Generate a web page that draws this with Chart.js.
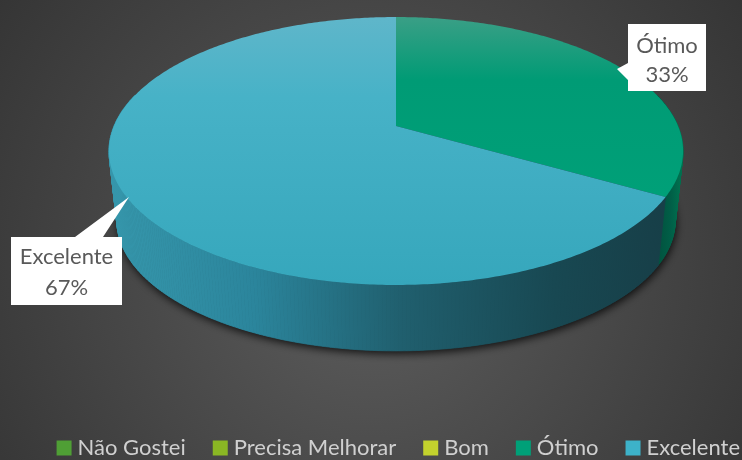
<!DOCTYPE html>
<html><head><meta charset="utf-8">
<style>html,body{margin:0;padding:0;background:#3a3a3a}#w{width:742px;height:460px;position:relative}</style>
<script src="https://cdn.jsdelivr.net/npm/chart.js@4"></script></head>
<body><div id="w"><canvas id="c" width="742" height="460"></canvas></div>
<script>
const categories = ['Não Gostei','Precisa Melhorar','Bom','Ótimo','Excelente'];
const shares = [0,0,0,33.3,66.7];
const legendColors = ['#4f9f35','#8ab724','#c3d22d','#00a078','#3db2c9'];

const topStops = {3:[[0,'#3a9f86'],[0.35,'#009b75'],[1,'#00a078']],4:[[0,'#5fb6ca'],[0.3,'#47b2c7'],[1,'#36a7bc']]};
const wallStops = {3:[[0,'#00523d'],[0.6,'#005f47'],[1,'#00704f']],4:[[0,'#3596ab'],[0.25,'#2b859c'],[0.52,'#205f6e'],[0.8,'#184852'],[1,'#173f48']]};
const view = {cx:396,apex:126,bx:129.3,dx:282,c:-0.1866,vanish:2700,depth:0.9727};
function project(a,low){
  const u=Math.cos(a),v=Math.sin(a),k=1+view.c*v;
  let x=view.cx+view.dx*u/k, y=view.apex+view.bx*v/k;
  if(low){x=view.cx+(x-view.cx)*view.depth;y=view.vanish-(view.vanish-y)*view.depth;}
  return [x,y];
}
function apexPoint(){ return [view.cx,view.apex]; }
function grad(ctx,x0,y0,x1,y1,stops){const g=ctx.createLinearGradient(x0,y0,x1,y1);stops.forEach(s=>g.addColorStop(s[0],s[1]));return g;}
function sweep(el){const out=[];const n=Math.max(2,Math.ceil((el.endAngle-el.startAngle)/0.012));for(let i=0;i<=n;i++)out.push(el.startAngle+(el.endAngle-el.startAngle)*i/n);return out;}

const pie3d = {
  id:'pie3d',
  beforeDraw(chart){
    const {ctx,width:w,height:h}=chart;
    const g=ctx.createRadialGradient(w/2,h*0.6,10,w/2,h*0.55,w*0.72);
    g.addColorStop(0,'#5c5c5c');g.addColorStop(1,'#2e2e2e');
    ctx.fillStyle=g;ctx.fillRect(0,0,w,h);
  },
  afterLayout(chart){
    const l=chart.legend;
    l.maxWidth=1000; l.fit();
    l.top=405; l.bottom=l.top+l.height;
    l.left=0; l.right=chart.width+30;
  },
  beforeDatasetsDraw(chart){
    const ctx=chart.ctx, els=chart.getDatasetMeta(0).data;
    ctx.save();
    ctx.shadowColor='rgba(0,0,0,0.8)';ctx.shadowBlur=9;ctx.shadowOffsetY=3;ctx.shadowOffsetX=1;
    ctx.fillStyle='#173f48';ctx.beginPath();
    for(let i=0;i<=180;i++){const p=project(i/180*2*Math.PI,true);i?ctx.lineTo(p[0],p[1]):ctx.moveTo(p[0],p[1]);}
    ctx.closePath();ctx.fill();ctx.restore();
    els.forEach((el,i)=>{
      if(!shares[i])return;
      const as=sweep(el);
      const x0=i===3?657:118, x1=i===3?680:664;
      const g=grad(ctx,x0,0,x1,0,wallStops[i]);
      ctx.fillStyle=g;ctx.strokeStyle=g;ctx.lineWidth=0.7;
      for(let k=0;k<as.length-1;k++){
        if(Math.sin(as[k])<-0.25&&Math.sin(as[k+1])<-0.25)continue;
        const a=project(as[k],false),b=project(as[k+1],false),c=project(as[k+1],true),d=project(as[k],true);
        ctx.beginPath();ctx.moveTo(a[0],a[1]);ctx.lineTo(b[0],b[1]);ctx.lineTo(c[0],c[1]);ctx.lineTo(d[0],d[1]);ctx.closePath();ctx.fill();ctx.stroke();
      }
    });
    els.forEach((el,i)=>{
      if(!shares[i])return;
      ctx.beginPath();
      const ap=apexPoint();ctx.moveTo(ap[0],ap[1]);
      sweep(el).forEach(a=>{const p=project(a,false);ctx.lineTo(p[0],p[1]);});
      ctx.closePath();
      ctx.fillStyle=grad(ctx,0,17,0,i===3?197:285,topStops[i]);ctx.fill();
    });
    return false;
  },
  afterDraw(chart){
    const ctx=chart.ctx;
    const total=shares.reduce((a,b)=>a+b,0);
    const callout=(i,box,tip,base,lines)=>{
      ctx.beginPath();
      ctx.moveTo(box[0],box[1]);
      if(base.edge==='top'){ctx.lineTo(base.a,box[1]);ctx.lineTo(tip[0],tip[1]);ctx.lineTo(base.b,box[1]);}
      ctx.lineTo(box[2],box[1]);ctx.lineTo(box[2],box[3]);ctx.lineTo(box[0],box[3]);
      if(base.edge==='left'){ctx.lineTo(box[0],base.b);ctx.lineTo(tip[0],tip[1]);ctx.lineTo(box[0],base.a);}
      ctx.closePath();ctx.fillStyle='#ffffff';ctx.fill();
      ctx.fillStyle='#595959';ctx.font='22px Lato';ctx.textAlign='center';ctx.textBaseline='alphabetic';
      const cx=(box[0]+box[2])/2;
      ctx.fillText(categories[i],cx,lines[0]);
      ctx.fillText(Math.round(shares[i]/total*100)+'%',cx,lines[1]);
    };
    callout(3,[628,24,706,91],[617,69],{edge:'left',a:63,b:80},[53,82]);
    callout(4,[11,237,122,305],[129,197],{edge:'top',a:75,b:103},[264,295]);
  }
};

new Chart(document.getElementById('c'),{
  type:'pie',
  data:{labels:categories,datasets:[{data:shares,backgroundColor:legendColors,borderWidth:0}]},
  options:{
    responsive:false,animation:false,
    layout:{padding:0},
    plugins:{
      tooltip:{enabled:false},
      legend:{display:true,position:'bottom',align:'end',
        labels:{color:'#d0d0d0',font:{family:'Lato',size:22},usePointStyle:true,pointStyle:'rect',boxWidth:5,boxHeight:15,padding:32}}
    }
  },
  plugins:[pie3d]
});
</script></body></html>
